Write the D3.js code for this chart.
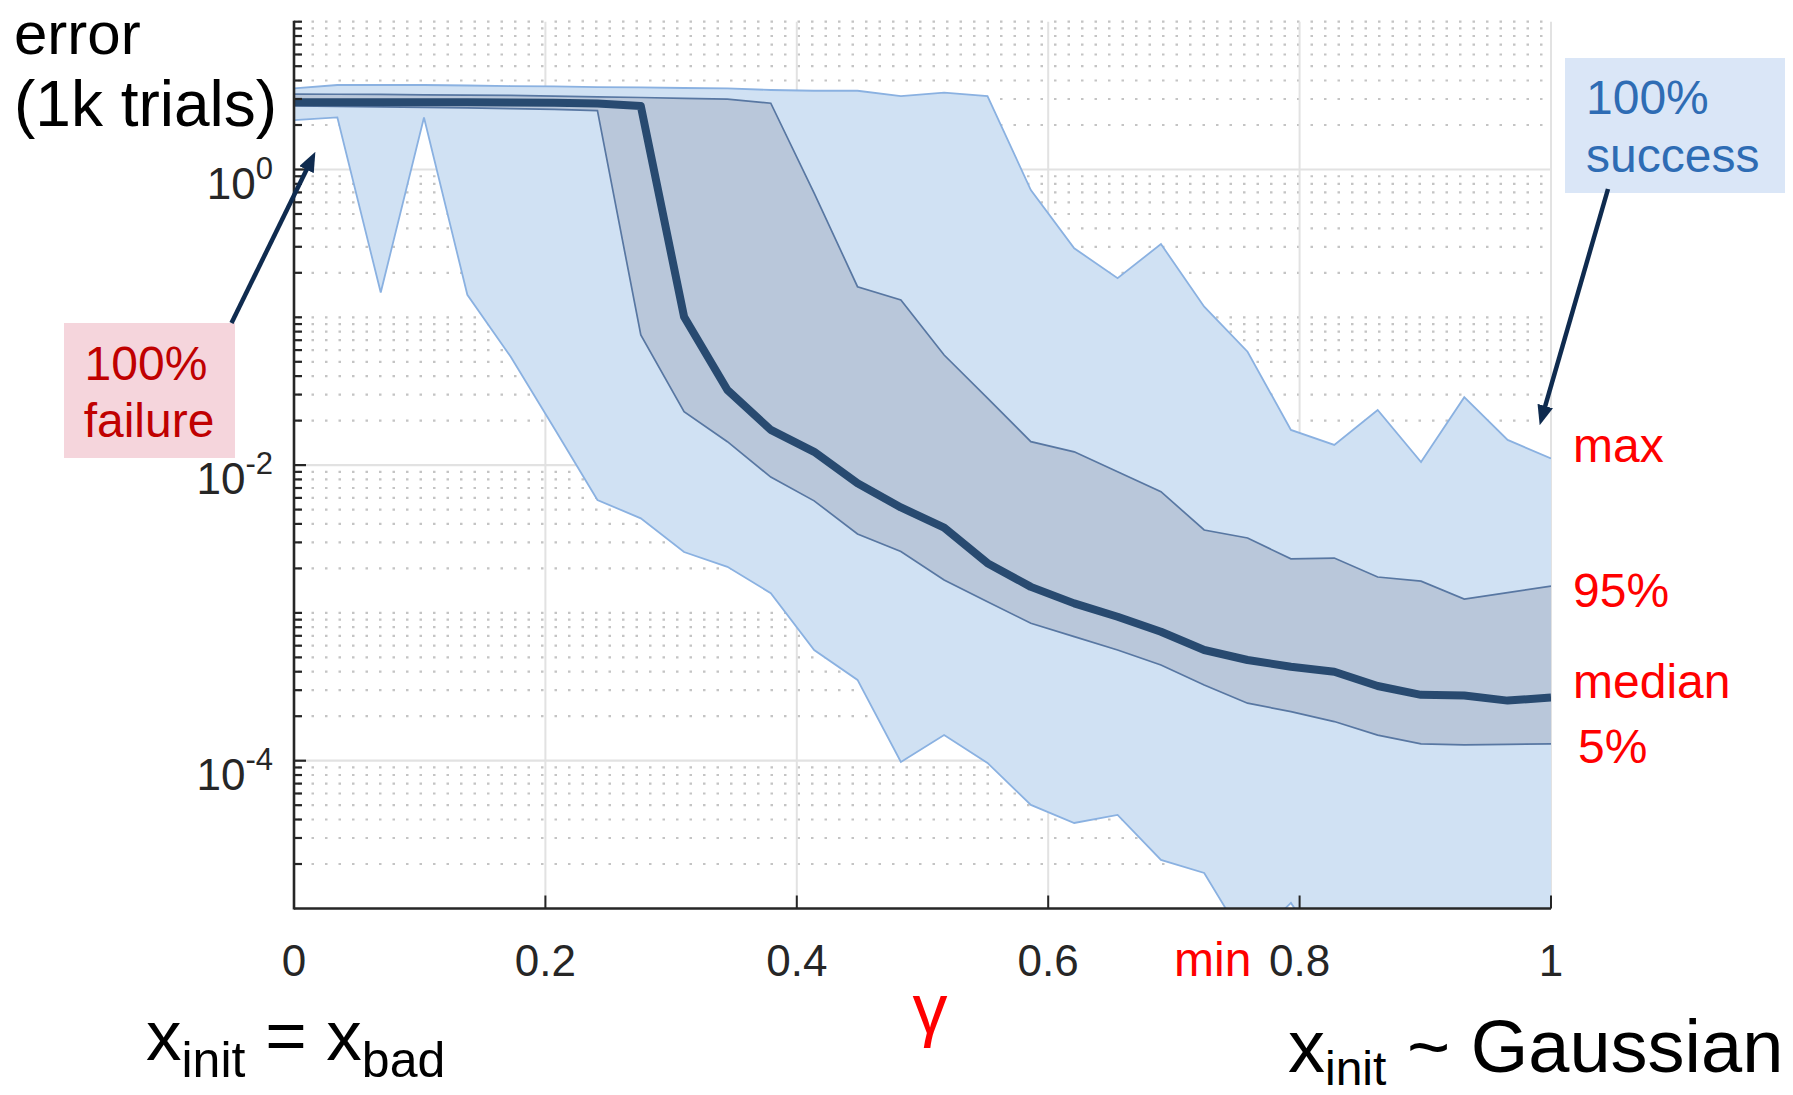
<!DOCTYPE html>
<html>
<head>
<meta charset="utf-8">
<script src="https://cdn.jsdelivr.net/npm/d3@7"></script>
<style>
  body { margin: 0; background: #fff; }
  svg { display: block; font-family: "Liberation Sans", Arial, sans-serif; }
  text { white-space: pre; }
</style>
</head>
<body>
<svg id="chart" width="1793" height="1095"></svg>
<script>
// gamma sample points (30 of them, 0 .. 1)
const gamma = [0, 0.0345, 0.0690, 0.1034, 0.1379, 0.1724, 0.2069, 0.2414, 0.2759, 0.3103,
               0.3448, 0.3793, 0.4138, 0.4483, 0.4828, 0.5172, 0.5517, 0.5862, 0.6207, 0.6552,
               0.6897, 0.7241, 0.7586, 0.7931, 0.8276, 0.8621, 0.8966, 0.9310, 0.9655, 1];

// error over 1k trials
const errMax = [3.54, 3.73, 3.73, 3.73, 3.70, 3.67, 3.65, 3.61, 3.59, 3.56,
                3.54, 3.45, 3.41, 3.41, 3.14, 3.31, 3.14, 0.726, 0.293, 0.184,
                0.313, 0.118, 0.0585, 0.0173, 0.0137, 0.0236, 0.0105, 0.0288, 0.0148, 0.0111];
const err95 = [3.24, 3.23, 3.22, 3.20, 3.19, 3.17, 3.14, 3.10, 3.07, 3.03,
               2.99, 2.81, 0.693, 0.161, 0.131, 0.0556, 0.0284, 0.0144, 0.0123, 0.00902,
               0.00661, 0.00364, 0.00321, 0.00232, 0.00235, 0.00175, 0.00164, 0.00124, 0.00137, 0.00152];
const errMedian = [2.85, 2.85, 2.85, 2.85, 2.85, 2.84, 2.83, 2.80, 2.69, 0.101,
                   0.0322, 0.0173, 0.0123, 0.00753, 0.00517, 0.00378, 0.00217, 0.00150, 0.00116, 0.000942,
                   0.000746, 0.000561, 0.000480, 0.000432, 0.000400, 0.000320, 0.000279, 0.000276, 0.000255, 0.000268];
const err5 = [2.69, 2.67, 2.65, 2.63, 2.61, 2.58, 2.55, 2.50, 0.0759, 0.0230,
              0.0144, 0.00830, 0.00573, 0.00342, 0.00260, 0.00167, 0.00119, 0.000851, 0.000691, 0.000561,
              0.000444, 0.000325, 0.000245, 0.000215, 0.000184, 0.000149, 0.000130, 0.000128, 0.000129, 0.000130];
const errMin = [2.16, 2.25, 0.147, 2.25, 0.142, 0.0541, 0.0178, 0.00581, 0.00436, 0.00258,
                0.00205, 0.00136, 0.000561, 0.000352, 0.0000980, 0.000149, 0.0000966, 0.0000502, 0.0000379, 0.0000430,
                0.0000213, 0.0000174, 0.0000057, 0.0000109, 0.000004, 0.000003, 0.0000035, 0.000003, 0.000004, 0.000003];

// ticks
const xTicks = [0, 0.2, 0.4, 0.6, 0.8, 1];
const xTickLabels = ['0', '0.2', '0.4', '0.6', '0.8', '1'];
const yTicks = [1, 1e-2, 1e-4];
const yTickExp = ['0', '-2', '-4'];

const svg = d3.select('#chart');
const x = d3.scaleLinear().domain([0, 1]).range([294, 1551]);
const y = d3.scaleLog().domain([1e-5, 10]).range([908.5, 21.7]);
const [x0, x1] = x.range();
const [yb, yt] = y.range();

// minor grid values k*10^n
const minorVals = [];
for (let e = -5; e <= 0; e++) for (let m = 1; m <= 9; m++) minorVals.push(m * Math.pow(10, e));
minorVals.push(10);
const isMajor = v => yTicks.some(t => Math.abs(Math.log10(v) - Math.log10(t)) < 1e-9);

const grid = svg.append('g');
grid.selectAll('line.minor')
  .data(minorVals.filter(v => v > 1.0001e-5 && !isMajor(v)))
  .enter().append('line')
  .attr('x1', x0 + 4).attr('x2', x1)
  .attr('y1', d => y(d)).attr('y2', d => y(d))
  .attr('stroke', '#c4c4c4').attr('stroke-width', 2.2)
  .attr('stroke-dasharray', '2.5 11');
grid.selectAll('line.hmajor')
  .data(yTicks)
  .enter().append('line')
  .attr('x1', x0).attr('x2', x1)
  .attr('y1', d => y(d)).attr('y2', d => y(d))
  .attr('stroke', '#e2e2e2').attr('stroke-width', 2.2);
grid.selectAll('line.vmajor')
  .data(xTicks.slice(1))
  .enter().append('line')
  .attr('x1', d => x(d)).attr('x2', d => x(d))
  .attr('y1', yt).attr('y2', yb)
  .attr('stroke', '#e2e2e2').attr('stroke-width', 2);

// data
svg.append('clipPath').attr('id', 'plotclip')
  .append('rect').attr('x', x0).attr('y', yt).attr('width', x1 - x0).attr('height', yb - yt);
const plot = svg.append('g').attr('clip-path', 'url(#plotclip)');

const band = (lo, hi) => d3.area()
  .x((d, i) => x(gamma[i]))
  .y0((d, i) => y(lo[i]))
  .y1((d, i) => y(hi[i]));
const edge = arr => d3.line().x((d, i) => x(gamma[i])).y((d, i) => y(arr[i]));

plot.append('path').datum(gamma).attr('d', band(errMin, errMax)).attr('fill', '#d0e1f3');
plot.append('path').datum(gamma).attr('d', edge(errMax)).attr('fill', 'none').attr('stroke', '#8ab1e1').attr('stroke-width', 1.8);
plot.append('path').datum(gamma).attr('d', edge(errMin)).attr('fill', 'none').attr('stroke', '#8ab1e1').attr('stroke-width', 1.8);

plot.append('path').datum(gamma).attr('d', band(err5, err95)).attr('fill', '#b9c7da');
plot.append('path').datum(gamma).attr('d', edge(err95)).attr('fill', 'none').attr('stroke', '#5877a2').attr('stroke-width', 1.7);
plot.append('path').datum(gamma).attr('d', edge(err5)).attr('fill', 'none').attr('stroke', '#5877a2').attr('stroke-width', 1.7);

plot.append('path').datum(gamma).attr('d', edge(errMedian))
  .attr('fill', 'none').attr('stroke', '#284a70').attr('stroke-width', 8).attr('stroke-linejoin', 'round');

// axes
const axes = svg.append('g').attr('stroke', '#262626');
axes.append('line').attr('x1', x0).attr('x2', x0).attr('y1', yt - 1).attr('y2', yb + 1).attr('stroke-width', 2.6);
axes.append('line').attr('x1', x0).attr('x2', x1).attr('y1', yb).attr('y2', yb).attr('stroke-width', 2.6);
axes.selectAll('line.ymin')
  .data(minorVals.filter(v => v > 1.0001e-5))
  .enter().append('line')
  .attr('x1', x0).attr('x2', d => x0 + (isMajor(d) ? 12 : 8))
  .attr('y1', d => y(d)).attr('y2', d => y(d))
  .attr('stroke-width', 2.2);
axes.selectAll('line.xt')
  .data(xTicks.slice(1))
  .enter().append('line')
  .attr('x1', d => x(d)).attr('x2', d => x(d))
  .attr('y1', yb).attr('y2', yb - 13)
  .attr('stroke-width', 2);

svg.append('g').selectAll('text')
  .data(xTicks)
  .enter().append('text')
  .attr('x', d => x(d)).attr('y', 976)
  .attr('text-anchor', 'middle').attr('font-size', 44).attr('fill', '#262626')
  .text((d, i) => xTickLabels[i]);

yTicks.forEach((v, i) => {
  const t = svg.append('text')
    .attr('x', 273).attr('y', y(v) + 29)
    .attr('text-anchor', 'end').attr('font-size', 44).attr('fill', '#262626');
  t.append('tspan').text('10');
  t.append('tspan').attr('font-size', 31).attr('dy', -20).text(yTickExp[i]);
});

// titles
svg.append('text').attr('x', 14).attr('y', 54).attr('font-size', 60).text('error');
svg.append('text').attr('x', 14).attr('y', 126).attr('font-size', 64).text('(1k trials)');

const xl = svg.append('text').attr('x', 146).attr('y', 1060).attr('font-size', 71);
xl.append('tspan').text('x');
xl.append('tspan').attr('font-size', 50).attr('dy', 17).text('init');
xl.append('tspan').attr('dy', -17).text(' = x');
xl.append('tspan').attr('font-size', 50).attr('dy', 17).text('bad');

const xr = svg.append('text').attr('x', 1288).attr('y', 1072).attr('font-size', 74);
xr.append('tspan').text('x');
xr.append('tspan').attr('font-size', 48).attr('dy', 13).text('init');
xr.append('tspan').attr('dy', -13).text(' ~ Gaussian');

svg.append('text').attr('x', 930).attr('y', 1033).attr('text-anchor', 'middle')
  .attr('font-size', 70).attr('fill', '#ff0000').text('γ');

// right-hand red labels
const redLabels = [
  { t: 'max', x: 1573, y: 462 },
  { t: '95%', x: 1573, y: 607 },
  { t: 'median', x: 1573, y: 698 },
  { t: '5%', x: 1578, y: 763 },
  { t: 'min', x: 1174, y: 976 }
];
svg.append('g').selectAll('text').data(redLabels).enter().append('text')
  .attr('x', d => d.x).attr('y', d => d.y).attr('font-size', 48).attr('fill', '#ff0000')
  .text(d => d.t);

// annotation boxes
svg.append('rect').attr('x', 64).attr('y', 323).attr('width', 171).attr('height', 135).attr('fill', '#f5d5dc');
svg.append('text').attr('x', 146).attr('y', 380).attr('text-anchor', 'middle').attr('font-size', 48).attr('fill', '#c00000').text('100%');
svg.append('text').attr('x', 149).attr('y', 437).attr('text-anchor', 'middle').attr('font-size', 48).attr('fill', '#c00000').text('failure');

svg.append('rect').attr('x', 1565).attr('y', 58).attr('width', 220).attr('height', 135).attr('fill', '#dae6f7');
svg.append('text').attr('x', 1586).attr('y', 114).attr('font-size', 48).attr('fill', '#2e6cb4').text('100%');
svg.append('text').attr('x', 1586).attr('y', 172).attr('font-size', 48).attr('fill', '#2e6cb4').text('success');

// arrows
svg.append('defs').append('marker')
  .attr('id', 'head').attr('markerUnits', 'userSpaceOnUse')
  .attr('markerWidth', 20).attr('markerHeight', 16)
  .attr('refX', 8).attr('refY', 8).attr('orient', 'auto')
  .append('path').attr('d', 'M0,0 L20,8 L0,16 Z').attr('fill', '#0f2b4f');

const arrows = [
  { from: [231.5, 323], to: { g: 0.017, err: 1.32 } },
  { from: [1608, 189], to: { g: 0.991, err: 0.0186 } }
];
arrows.forEach(a => {
  const tx = x(a.to.g), ty = y(a.to.err);
  const dx = tx - a.from[0], dy = ty - a.from[1];
  const len = Math.hypot(dx, dy);
  svg.append('line')
    .attr('x1', a.from[0]).attr('y1', a.from[1])
    .attr('x2', tx - dx / len * 12).attr('y2', ty - dy / len * 12)
    .attr('stroke', '#0f2b4f').attr('stroke-width', 4.5)
    .attr('marker-end', 'url(#head)');
});
</script>
</body>
</html>
